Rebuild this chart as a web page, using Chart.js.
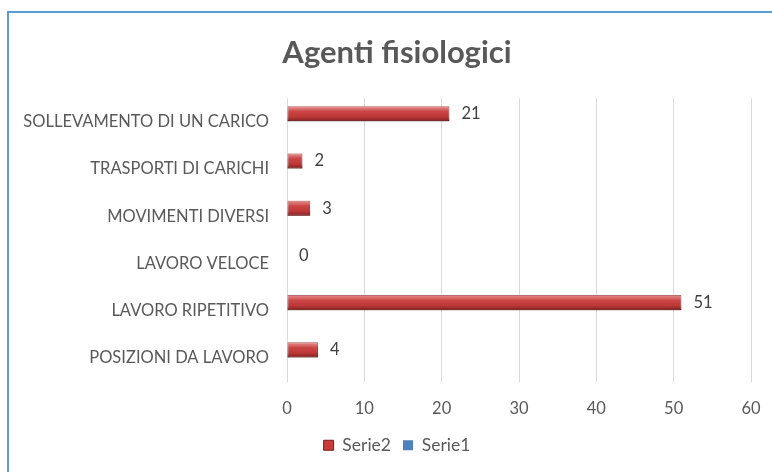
<!DOCTYPE html>
<html>
<head>
<meta charset="utf-8">
<script src="https://cdn.jsdelivr.net/npm/chart.js@4/dist/chart.umd.min.js"></script>
<style>
  html, body { margin: 0; padding: 0; background: #fff; overflow: hidden; }
  #frame {
    position: absolute; left: 7px; top: 11px; width: 820px; height: 500px;
    border: 2px solid #5B9BD5; box-sizing: border-box;
  }
  #wrap { position: absolute; left: 0; top: 0; width: 794px; height: 472px; }
</style>
</head>
<body>
<div id="frame"></div>
<div id="wrap"><canvas id="chart" width="794" height="472"></canvas></div>
<script>
const categories = [
  "SOLLEVAMENTO DI UN CARICO",
  "TRASPORTI DI CARICHI",
  "MOVIMENTI DIVERSI",
  "LAVORO VELOCE",
  "LAVORO RIPETITIVO",
  "POSIZIONI DA LAVORO",
]
const serie2 = [21, 2, 3, 0, 51, 4]
const serie1 = [0, 0, 0, 0, 0, 0]
const xTicks = [0, 10, 20, 30, 40, 50, 60]

const textGray = "#595959"
const font = "Lato"

// shading on the red bars so they look rounded
const barShade = {
  id: "barShade",
  afterDatasetsDraw(chart) {
    const ctx = chart.ctx
    const meta = chart.getDatasetMeta(0)
    meta.data.forEach((bar) => {
      const w = bar.x - bar.base
      if (w <= 0) return
      const top = bar.y - bar.height / 2
      const g = ctx.createLinearGradient(0, top, 0, top + bar.height)
      g.addColorStop(0, "rgba(255,200,200,0.55)")
      g.addColorStop(0.35, "rgba(255,255,255,0.05)")
      g.addColorStop(0.7, "rgba(0,0,0,0.05)")
      g.addColorStop(1, "rgba(60,0,0,0.45)")
      ctx.save()
      ctx.fillStyle = g
      ctx.fillRect(bar.base, top, w, bar.height)
      ctx.restore()
    })
  },
}

// value labels to the right of each Serie2 bar
const valueLabels = {
  id: "valueLabels",
  afterDatasetsDraw(chart) {
    const ctx = chart.ctx
    const meta = chart.getDatasetMeta(0)
    ctx.save()
    ctx.font = "16.5px " + font
    ctx.fillStyle = "#404040"
    ctx.textAlign = "left"
    ctx.textBaseline = "middle"
    meta.data.forEach((bar, i) => {
      ctx.fillText(String(serie2[i]), bar.x + 12, bar.y)
    })
    ctx.restore()
  },
}

const config = {
  type: "bar",
  data: {
    labels: categories,
    datasets: [
      {
        label: "Serie2",
        data: serie2,
        backgroundColor: "#C83B3A",
        borderColor: "#7A1E1E",
        borderWidth: 1,
        borderSkipped: false,
      },
      {
        label: "Serie1",
        data: serie1,
        backgroundColor: "#4F81BD",
        borderColor: "#2C5A94",
        borderWidth: 0,
      },
    ],
  },
  options: {
    indexAxis: "y",
    responsive: false,
    animation: false,
    categoryPercentage: 0.68,
    barPercentage: 0.94,
    layout: { padding: { left: 0, right: 0, top: 0, bottom: 8 } },
    plugins: {
      title: {
        display: true,
        text: "Agenti fisiologici",
        color: textGray,
        font: { family: font, size: 31, weight: "bold" },
        padding: { top: 34, bottom: 27 },
      },
      legend: {
        position: "bottom",
        labels: {
          color: textGray,
          font: { family: font, size: 17.5 },
          boxWidth: 10,
          boxHeight: 10,
          padding: 12,
        },
      },
      tooltip: { enabled: false },
    },
    scales: {
      x: {
        min: 0,
        max: 60,
        afterBuildTicks: (axis) => {
          axis.ticks = xTicks.map((v) => ({ value: v }))
        },
        grid: { color: "#D9D9D9", drawTicks: false },
        border: { display: false },
        ticks: {
          color: textGray,
          font: { family: font, size: 16.5 },
          padding: 17,
        },
        afterFit: (axis) => {
          axis.height = 43
        },
      },
      y: {
        grid: { display: false, drawTicks: false },
        border: { display: false },
        ticks: {
          color: textGray,
          font: { family: font, size: 16.5 },
          padding: 18,
        },
        afterFit: (axis) => {
          axis.width = 287
        },
      },
      // empty strip on the right so the plot stops short of the frame
      rightGap: {
        type: "linear",
        position: "right",
        grid: { display: false, drawTicks: false },
        border: { display: false },
        ticks: { display: false },
        afterFit: (axis) => {
          axis.width = 43
        },
      },
    },
  },
  plugins: [barShade, valueLabels],
}

const chart = new Chart(document.getElementById("chart"), config)
</script>
</body>
</html>
